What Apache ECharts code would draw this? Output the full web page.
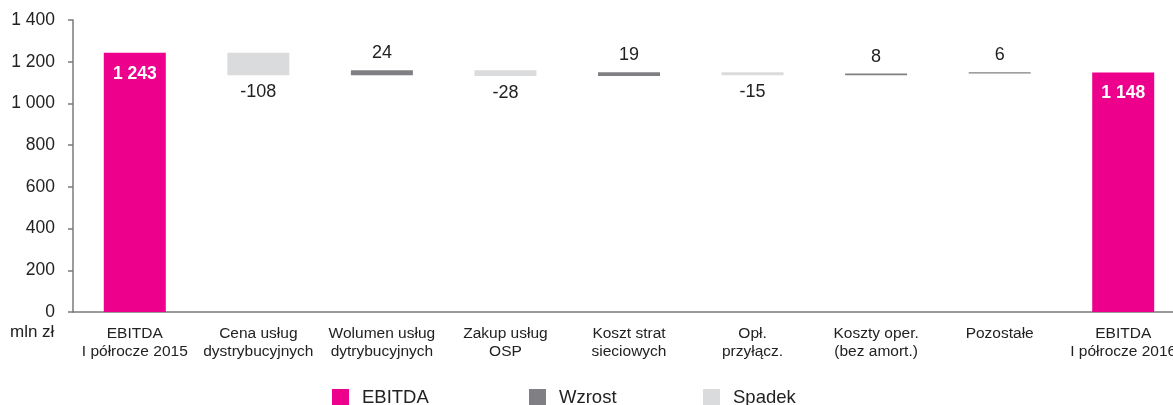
<!DOCTYPE html>
<html>
<head>
<meta charset="utf-8">
<script src="https://cdn.jsdelivr.net/npm/echarts@6/dist/echarts.min.js"></script>
<style>
  html, body { margin: 0; padding: 0; background: #fff; overflow: hidden; }
  #chart { width: 1200px; height: 405px; }
</style>
</head>
<body>
<div id="chart"></div>
<script>
// EBITDA bridge: H1 2015 -> H1 2016 (mln zł)
const categories = [
  'EBITDA\nI półrocze 2015',
  'Cena usług\ndystrybucyjnych',
  'Wolumen usług\ndytrybucyjnych',
  'Zakup usług\nOSP',
  'Koszt strat\nsieciowych',
  'Opł.\nprzyłącz.',
  'Koszty oper.\n(bez amort.)',
  'Pozostałe',
  'EBITDA\nI półrocze 2016'
];
const startEbitda = 1243;
const endEbitda = 1148;
const changes = [-108, 24, -28, 19, -15, 8, 6];
const yTicks = [0, 200, 400, 600, 800, 1000, 1200, 1400];
const legendNames = ['EBITDA', 'Wzrost', 'Spadek'];

const PINK = '#EC008C';
const DARK = '#808084';
const LIGHT = '#DADBDD';
const FONT = '"Liberation Sans", Arial, sans-serif';

// Build the stacked series of the waterfall: invisible base + visible segments
const baseData = [0];
const ebitdaData = [startEbitda];
const upData = ['-'];
const downData = ['-'];
let running = startEbitda;
changes.forEach(d => {
  ebitdaData.push('-');
  if (d >= 0) {
    baseData.push(running);
    upData.push(d);
    downData.push('-');
  } else {
    baseData.push(running + d);
    upData.push('-');
    downData.push(-d);
  }
  running += d;
});
baseData.push(0);
ebitdaData.push(endEbitda);
upData.push('-');
downData.push('-');

const fmtThousands = v => String(v).replace(/\B(?=(\d{3})+(?!\d))/g, ' ');

const chart = echarts.init(document.getElementById('chart'), null, { renderer: 'canvas' });

const legendBase = {
  orient: 'horizontal',
  top: 388,
  padding: 0,
  itemWidth: 17,
  itemHeight: 17,
  icon: 'rect',
  textStyle: { fontFamily: FONT, fontSize: 18.5, color: '#222', padding: [3, 0, 0, 8] },
  selectedMode: false
};

chart.setOption({
  animation: false,
  textStyle: { fontFamily: FONT },
  grid: { left: 73, top: 20, bottom: 93, width: 1112, containLabel: false },
  legend: [
    Object.assign({}, legendBase, { left: 332, data: [legendNames[0]] }),
    Object.assign({}, legendBase, { left: 529, data: [legendNames[1]] }),
    Object.assign({}, legendBase, { left: 703, data: [legendNames[2]] })
  ],
  graphic: [{
    type: 'text',
    left: 10,
    top: 324,
    style: { text: 'mln zł', fontFamily: FONT, fontSize: 17, fill: '#222' }
  }],
  xAxis: {
    type: 'category',
    data: categories,
    axisLine: { lineStyle: { color: '#7a7a7a', width: 1.5 } },
    axisTick: { show: false },
    axisLabel: {
      interval: 0,
      margin: 13,
      fontFamily: FONT,
      fontSize: 15.5,
      lineHeight: 18,
      color: '#222'
    }
  },
  yAxis: {
    type: 'value',
    min: yTicks[0],
    max: yTicks[yTicks.length - 1],
    interval: yTicks[1] - yTicks[0],
    splitLine: { show: false },
    axisLine: { show: true, lineStyle: { color: '#7a7a7a', width: 1.5 } },
    axisTick: { show: true, length: 5, inside: false, lineStyle: { color: '#7a7a7a', width: 1.5 } },
    axisLabel: {
      margin: 18,
      fontFamily: FONT,
      fontSize: 17.5,
      color: '#222',
      formatter: v => fmtThousands(v)
    }
  },
  series: [
    {
      name: 'base',
      type: 'bar',
      stack: 'wf',
      barWidth: 62,
      itemStyle: { color: 'transparent' },
      emphasis: { disabled: true },
      data: baseData
    },
    {
      name: legendNames[0],
      type: 'bar',
      stack: 'wf',
      barWidth: 62,
      itemStyle: { color: PINK },
      label: {
        show: true,
        position: 'insideTop',
        distance: 12,
        fontFamily: FONT,
        fontSize: 17.5,
        fontWeight: 'bold',
        color: '#fff',
        formatter: p => fmtThousands(p.value)
      },
      data: ebitdaData
    },
    {
      name: legendNames[1],
      type: 'bar',
      stack: 'wf',
      barWidth: 62,
      itemStyle: { color: DARK },
      label: {
        show: true,
        position: 'top',
        distance: 8,
        fontFamily: FONT,
        fontSize: 18,
        color: '#222',
        formatter: p => String(p.value)
      },
      data: upData
    },
    {
      name: legendNames[2],
      type: 'bar',
      stack: 'wf',
      barWidth: 62,
      itemStyle: { color: LIGHT },
      label: {
        show: true,
        position: 'bottom',
        distance: 8,
        fontFamily: FONT,
        fontSize: 18,
        color: '#222',
        formatter: p => '-' + p.value
      },
      data: downData
    }
  ]
});
</script>
</body>
</html>
